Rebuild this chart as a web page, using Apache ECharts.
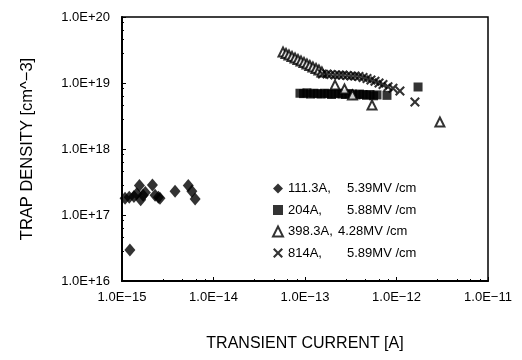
<!DOCTYPE html>
<html>
<head>
<meta charset="utf-8">
<script src="https://cdn.jsdelivr.net/npm/echarts@6/dist/echarts.min.js"></script>
<style>
  html, body { margin: 0; padding: 0; background: #fff; }
  #chart { width: 522px; height: 360px; }
</style>
</head>
<body>
<div id="chart"></div>
<script>
// series names (legend text)
const seriesNames = ['111.3A, 5.39MV /cm', '204A, 5.88MV /cm', '398.3A, 4.28MV /cm', '814A, 5.89MV /cm'];
// width of the first legend column, per row
const legendColWidth = [59, 59, 50, 59];

// 111.3A, 5.39MV/cm  (filled diamonds)
const diamondX = [1.08e-15, 1.2e-15, 1.35e-15, 1.45e-15, 1.55e-15, 1.6e-15, 1.7e-15, 1.8e-15, 2.15e-15, 2.3e-15, 2.5e-15, 2.6e-15, 3.8e-15, 5.3e-15, 5.8e-15, 6.3e-15, 1.22e-15];
const diamondY = [1.8e17, 1.85e17, 1.9e17, 2.1e17, 2.8e17, 1.7e17, 2.0e17, 2.2e17, 2.85e17, 2.0e17, 1.85e17, 1.8e17, 2.3e17, 2.8e17, 2.3e17, 1.75e17, 2.95e16];

// 204A, 5.88MV/cm  (filled squares)
const squareX = [8.81e-14, 9.64e-14, 1.05e-13, 1.15e-13, 1.25e-13, 1.37e-13, 1.50e-13, 1.63e-13, 1.78e-13, 1.95e-13, 2.13e-13, 2.32e-13, 2.54e-13, 2.77e-13, 3.03e-13, 3.31e-13, 3.61e-13, 3.94e-13, 4.31e-13, 4.70e-13, 5.13e-13, 5.61e-13, 6.12e-13, 7.87e-13, 1.72e-12];
const squareY = [7.0e18, 6.9e18, 7.1e18, 6.8e18, 7.0e18, 6.9e18, 6.8e18, 7.0e18, 6.9e18, 6.7e18, 6.9e18, 7.0e18, 6.8e18, 6.7e18, 6.9e18, 6.8e18, 6.6e18, 6.8e18, 6.7e18, 6.5e18, 6.7e18, 6.4e18, 6.6e18, 6.5e18, 8.7e18];

// 398.3A, 4.28MV/cm  (open triangles)
const triangleX = [5.75e-14, 6.20e-14, 6.68e-14, 7.21e-14, 7.78e-14, 8.38e-14, 9.04e-14, 9.75e-14, 1.05e-13, 1.13e-13, 1.22e-13, 1.32e-13, 1.42e-13, 1.53e-13, 2.13e-13, 2.7e-13, 3.3e-13, 5.4e-13, 2.98e-12];
const triangleY = [2.95e19, 2.80e19, 2.66e19, 2.52e19, 2.39e19, 2.27e19, 2.15e19, 2.05e19, 1.94e19, 1.84e19, 1.75e19, 1.66e19, 1.57e19, 1.47e19, 9.3e18, 8.1e18, 6.6e18, 4.65e18, 2.57e18];

// 814A, 5.89MV/cm  (crosses)
const crossX = [1.55e-13, 1.74e-13, 1.92e-13, 2.13e-13, 2.36e-13, 2.60e-13, 2.88e-13, 3.18e-13, 3.52e-13, 3.89e-13, 4.31e-13, 4.76e-13, 5.26e-13, 5.82e-13, 6.44e-13, 7.12e-13, 8.07e-13, 9.15e-13, 1.09e-12, 1.59e-12];
const crossY = [1.37e19, 1.37e19, 1.35e19, 1.32e19, 1.32e19, 1.32e19, 1.30e19, 1.28e19, 1.28e19, 1.25e19, 1.21e19, 1.17e19, 1.11e19, 1.06e19, 1.0e19, 9.5e18, 8.8e18, 8.3e18, 7.57e18, 5.15e18];

const zip = (xs, ys) => xs.map((x, i) => [x, ys[i]]);

const fontFamily = '"Liberation Sans", Arial, sans-serif';
const crossPath = 'path://M0,1.5L1.5,0L5,3.5L8.5,0L10,1.5L6.5,5L10,8.5L8.5,10L5,6.5L1.5,10L0,8.5L3.5,5Z';

const expLabel = (v) => {
  const e = Math.round(Math.log10(v));
  if (e >= 0) return '1.0E+' + e;
  return '1.0E\u2212' + Math.abs(e);
};

const chart = echarts.init(document.getElementById('chart'));
const option = {
  animation: false,
  backgroundColor: '#fff',
  textStyle: { fontFamily: fontFamily, color: '#000' },
  grid: {
    left: 122, right: 34, top: 17, bottom: 79,
    show: true, borderColor: '#000', borderWidth: 1.5
  },
  legend: {
    orient: 'vertical',
    left: 272,
    top: 182,
    padding: 0,
    itemWidth: 10,
    itemHeight: 10,
    itemGap: 8.5,
    textStyle: {
      fontSize: 13, color: '#000', fontFamily: fontFamily,
      rich: {
        w0: { width: legendColWidth[0], fontSize: 13 },
        w1: { width: legendColWidth[1], fontSize: 13 },
        w2: { width: legendColWidth[2], fontSize: 13 },
        w3: { width: legendColWidth[3], fontSize: 13 },
        b: { fontSize: 13 }
      }
    },
    formatter: function (name) {
      const idx = seriesNames.indexOf(name);
      const cut = name.indexOf(',') + 1;
      return '{w' + idx + '|' + name.slice(0, cut) + '}{b|' + name.slice(cut).trim() + '}';
    },
    data: seriesNames
  },
  xAxis: {
    type: 'log',
    logBase: 10,
    min: 1e-15,
    max: 1e-11,
    name: 'TRANSIENT CURRENT [A]',
    nameLocation: 'middle',
    nameGap: 55,
    nameTextStyle: { fontSize: 16, color: '#000' },
    axisLine: { lineStyle: { color: '#000', width: 2 } },
    axisTick: { inside: true, length: 4, lineStyle: { color: '#000' } },
    minorTick: { show: true, length: 2, lineStyle: { color: '#000' } },
    splitLine: { show: false },
    axisLabel: { fontSize: 13, color: '#000', margin: 10, formatter: v => expLabel(v) }
  },
  yAxis: {
    type: 'log',
    logBase: 10,
    min: 1e16,
    max: 1e20,
    name: 'TRAP DENSITY [cm^\u22123]',
    nameLocation: 'middle',
    nameGap: 86,
    nameTextStyle: { fontSize: 16.5, color: '#000' },
    axisLine: { lineStyle: { color: '#000', width: 2 } },
    axisTick: { inside: true, length: 4, lineStyle: { color: '#000' } },
    minorTick: { show: true, length: 2, lineStyle: { color: '#000' } },
    splitLine: { show: false },
    axisLabel: { fontSize: 13, color: '#000', margin: 12, formatter: v => expLabel(v) }
  },
  series: [
    {
      name: seriesNames[0],
      type: 'scatter',
      symbol: 'diamond',
      symbolSize: [11, 13],
      itemStyle: { color: '#000' },
      data: zip(diamondX, diamondY)
    },
    {
      name: seriesNames[1],
      type: 'scatter',
      symbol: 'rect',
      symbolSize: 9,
      itemStyle: { color: '#000' },
      data: zip(squareX, squareY)
    },
    {
      name: seriesNames[2],
      type: 'scatter',
      symbol: 'triangle',
      symbolSize: 9,
      itemStyle: { color: '#fff', borderColor: '#000', borderWidth: 2 },
      data: zip(triangleX, triangleY)
    },
    {
      name: seriesNames[3],
      type: 'scatter',
      symbol: crossPath,
      symbolSize: 10,
      itemStyle: { color: '#000' },
      data: zip(crossX, crossY)
    }
  ]
};
chart.setOption(option);
</script>
</body>
</html>
